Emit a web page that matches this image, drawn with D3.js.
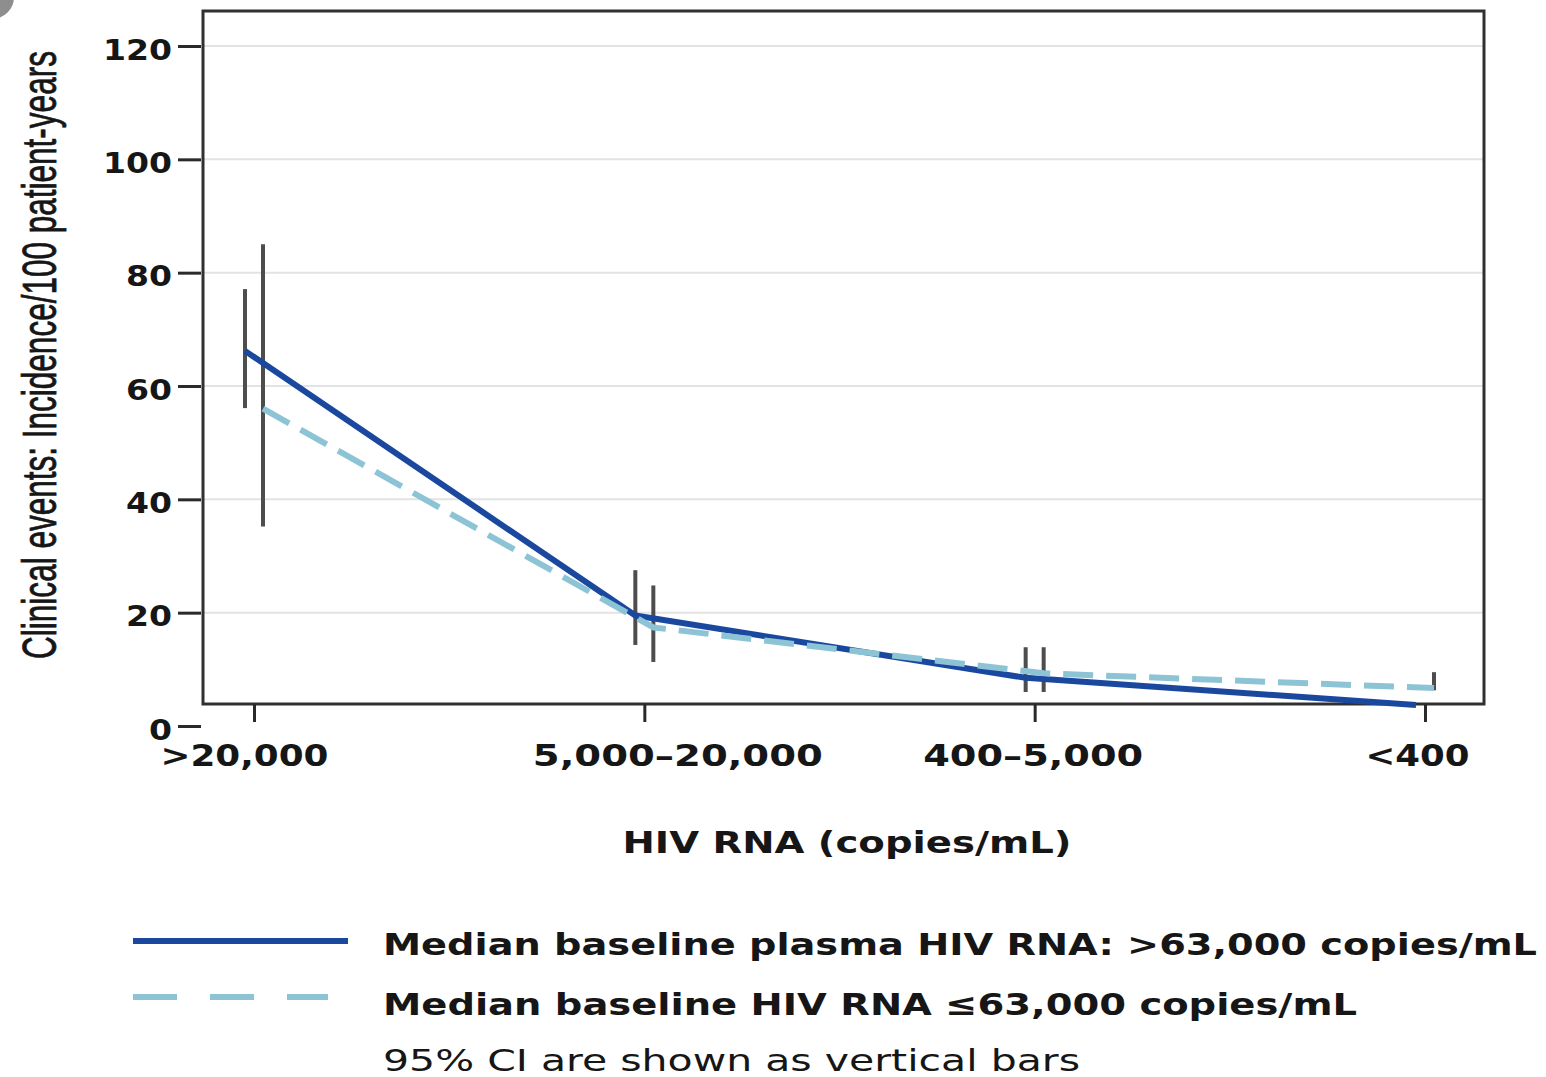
<!DOCTYPE html>
<html>
<head>
<meta charset="utf-8">
<script src="https://cdn.jsdelivr.net/npm/d3@7"></script>
<style>
  html, body { margin: 0; padding: 0; background: #ffffff; }
  svg { display: block; }
</style>
</head>
<body>
<svg id="chart" width="1546" height="1077"></svg>
<script>
// ---- data ----
const categories = [">20,000", "5,000–20,000", "400–5,000", "<400"];
const yTicks = [0, 20, 40, 60, 80, 100, 120];

// Median baseline plasma HIV RNA > 63,000 copies/mL
const highRate  = [66.2, 19.5, 8.5, 3.7];
const highLower = [56.1, 14.3, 6.0, null];
const highUpper = [77.1, 27.5, 13.9, null];

// Median baseline HIV RNA <= 63,000 copies/mL
const lowRate  = [56.0, 17.4, 9.3, 6.7];
const lowLower = [35.2, 11.3, 6.0, 6.3];
const lowUpper = [85.0, 24.8, 13.9, 9.5];

const seriesLabels = [
  "Median baseline plasma HIV RNA: >63,000 copies/mL",
  "Median baseline HIV RNA ≤63,000 copies/mL"
];
const ciNote = "95% CI are shown as vertical bars";
const xTitle = "HIV RNA (copies/mL)";
const yTitle = "Clinical events: Incidence/100 patient-years";

// ---- layout ----
const svg = d3.select("#chart");
const frame = { left: 203, right: 1484, top: 11, bottom: 704 };
const boldFont = "'DejaVu Sans', Verdana, sans-serif";
const ink = "#161616";
const darkBlue = "#1b489f";
const lightBlue = "#8cc4d6";
const ciGrey = "#4d4d4d";

const x = d3.scalePoint().domain(categories).range([254, 1425]);
const y = d3.scaleLinear().domain([0, 120]).range([726, 46]);
const dodge = 9;

function fit(sel, w) {
  sel.attr("textLength", w).attr("lengthAdjust", "spacingAndGlyphs");
}

// small corner badge fragment
svg.append("circle")
  .attr("cx", -8).attr("cy", -3).attr("r", 22)
  .attr("fill", "#8e8e8e");

// gridlines
svg.append("g")
  .selectAll("line")
  .data(yTicks.filter(d => d > 0))
  .join("line")
  .attr("x1", frame.left).attr("x2", frame.right)
  .attr("y1", d => y(d)).attr("y2", d => y(d))
  .attr("stroke", "#e3e3e3").attr("stroke-width", 2);

// plot frame
svg.append("rect")
  .attr("x", frame.left).attr("y", frame.top)
  .attr("width", frame.right - frame.left)
  .attr("height", frame.bottom - frame.top)
  .attr("fill", "none").attr("stroke", "#303030").attr("stroke-width", 3);

// y axis
const yAxis = svg.append("g")
  .attr("transform", `translate(${frame.left - 2},0)`)
  .call(d3.axisLeft(y).tickValues(yTicks).tickSize(23).tickPadding(6).tickFormat(d3.format("d")));
yAxis.select(".domain").remove();
yAxis.selectAll(".tick line").attr("stroke", "#2a2a2a").attr("stroke-width", 3);
yAxis.selectAll(".tick text")
  .attr("fill", ink)
  .attr("font-family", boldFont).attr("font-weight", "bold").attr("font-size", 29)
  .attr("dy", "0.45em")
  .each(function () {
    const w = this.getComputedTextLength();
    d3.select(this).call(fit, w * 1.14);
  });

// x axis: label widths and nudges around each tick
const xLabelWidth = { ">20,000": 168, "5,000–20,000": 290, "400–5,000": 220, "<400": 104 };
const xLabelNudge = { ">20,000": -10, "5,000–20,000": 33, "400–5,000": -2, "<400": -8 };
const xAxis = svg.append("g")
  .attr("transform", `translate(0,${frame.bottom})`)
  .call(d3.axisBottom(x).tickSize(18));
xAxis.select(".domain").remove();
xAxis.selectAll(".tick line").attr("stroke", "#2a2a2a").attr("stroke-width", 3);
xAxis.selectAll(".tick text")
  .attr("fill", ink)
  .attr("font-family", boldFont).attr("font-weight", "bold").attr("font-size", 31)
  .attr("x", d => xLabelNudge[d]).attr("y", 62).attr("dy", 0)
  .each(function (d) { d3.select(this).call(fit, xLabelWidth[d]); });

// axis titles
svg.append("text")
  .attr("x", 847).attr("y", 853)
  .attr("text-anchor", "middle")
  .attr("fill", ink)
  .attr("font-family", boldFont).attr("font-weight", "bold").attr("font-size", 30)
  .text(xTitle)
  .call(fit, 449);

// condensed vertical title: squeeze along the reading direction
const yTitleText = svg.append("text")
  .attr("text-anchor", "middle")
  .attr("fill", ink)
  .attr("stroke", ink).attr("stroke-width", 0.8)
  .attr("font-family", "'Liberation Sans', Arial, sans-serif")
  .attr("font-size", 48)
  .text(yTitle);
const naturalLen = yTitleText.node().getComputedTextLength();
yTitleText.attr("transform", `translate(56,355) rotate(-90) scale(${608 / naturalLen},1)`);

// series definitions
const series = [
  { rate: highRate, lower: highLower, upper: highUpper, offset: -dodge,
    color: darkBlue, dash: null },
  { rate: lowRate, lower: lowLower, upper: lowUpper, offset: dodge,
    color: lightBlue, dash: "30,13" }
];

// confidence interval bars
series.forEach(s => {
  const bars = categories.map((c, i) => ({ c, lo: s.lower[i], hi: s.upper[i] }))
    .filter(d => d.lo != null && d.hi != null);
  svg.append("g")
    .selectAll("line")
    .data(bars)
    .join("line")
    .attr("x1", d => x(d.c) + s.offset).attr("x2", d => x(d.c) + s.offset)
    .attr("y1", d => y(d.lo)).attr("y2", d => y(d.hi))
    .attr("stroke", ciGrey).attr("stroke-width", 4);
});

// incidence lines
series.forEach(s => {
  const pts = categories.map((c, i) => ({ c, v: s.rate[i] }));
  const line = d3.line().x(d => x(d.c) + s.offset).y(d => y(d.v));
  svg.append("path")
    .datum(pts)
    .attr("d", line)
    .attr("fill", "none")
    .attr("stroke", s.color)
    .attr("stroke-width", 6)
    .attr("stroke-linejoin", "round")
    .attr("stroke-dasharray", s.dash);
});

// legend
const legend = svg.append("g");
legend.append("line")
  .attr("x1", 133).attr("x2", 348).attr("y1", 941).attr("y2", 941)
  .attr("stroke", darkBlue).attr("stroke-width", 6);
legend.append("line")
  .attr("x1", 133).attr("x2", 328).attr("y1", 997).attr("y2", 997)
  .attr("stroke", lightBlue).attr("stroke-width", 6)
  .attr("stroke-dasharray", "44,33");

const legendRows = [
  { text: seriesLabels[0], y: 955, w: 1154, weight: "bold", size: 31 },
  { text: seriesLabels[1], y: 1015, w: 974, weight: "bold", size: 31 },
  { text: ciNote, y: 1071, w: 697, weight: "normal", size: 30 }
];
legend.selectAll("text")
  .data(legendRows)
  .join("text")
  .attr("x", 383).attr("y", d => d.y)
  .attr("fill", ink)
  .attr("font-family", boldFont).attr("font-weight", d => d.weight).attr("font-size", d => d.size)
  .text(d => d.text)
  .each(function (d) { d3.select(this).call(fit, d.w); });
</script>
</body>
</html>
